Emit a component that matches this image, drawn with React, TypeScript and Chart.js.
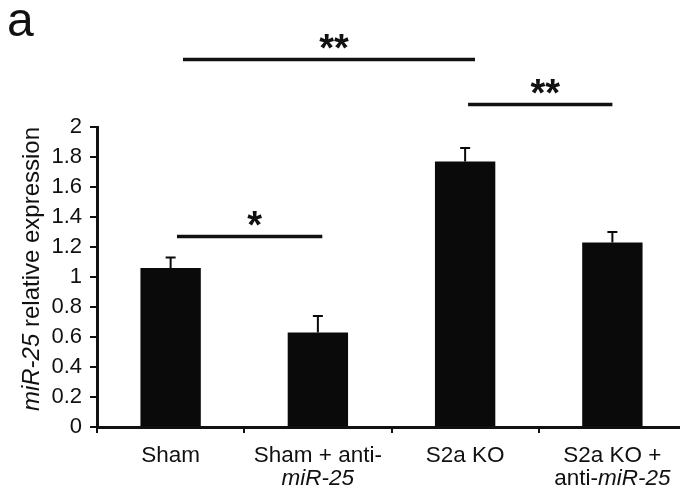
import React, { useEffect, useRef } from "react";
import { Chart, registerables } from "chart.js";

Chart.register(...registerables);

// ---------- data ----------
const categories = ["Sham", "Sham + anti-miR-25", "S2a KO", "S2a KO + anti-miR-25"];
const values = [1.06, 0.63, 1.77, 1.23];
const errors = [0.07, 0.11, 0.09, 0.07];
const yMin = 0;
const yMax = 2;
const yStep = 0.2;

type Seg = [string, boolean]; // [text, italic]
const xLabelLines: Seg[][][] = [
  [[["Sham", false]]],
  [[["Sham + anti-", false]], [["miR-25", true]]],
  [[["S2a KO", false]]],
  [[["S2a KO +", false]], [["anti-", false], ["miR-25", true]]],
];
const yTitle: Seg[] = [["miR-25", true], [" relative expression", false]];
const panelLabel = "a";

// significance brackets: from/to in category index units, y in data units
const sigFrom = [0.084, 2.02, 0.043];
const sigTo = [2.067, 3.0, 1.03];
const sigY = [2.45, 2.15, 1.27];
const sigLabel = ["**", "**", "*"];

const FAMILY = "'Liberation Sans', Arial, Helvetica, sans-serif";

function drawSegs(ctx: CanvasRenderingContext2D, segs: Seg[], cx: number, y: number, size: number) {
  const fonts = segs.map(([, it]) => `${it ? "italic " : ""}${size}px ${FAMILY}`);
  const widths = segs.map(([t], i) => {
    ctx.font = fonts[i];
    return ctx.measureText(t).width;
  });
  const total = widths.reduce((a, b) => a + b, 0);
  let x = cx - total / 2;
  ctx.textAlign = "left";
  segs.forEach(([t], i) => {
    ctx.font = fonts[i];
    ctx.fillText(t, x, y);
    x += widths[i];
  });
}

const decorPlugin = {
  id: "decor",
  afterDatasetsDraw(chart: any) {
    const ctx: CanvasRenderingContext2D = chart.ctx;
    const ys = chart.scales.y;
    const meta = chart.getDatasetMeta(0);
    ctx.save();
    ctx.strokeStyle = "#0a0a0a";
    ctx.lineWidth = 2;
    meta.data.forEach((bar: any, i: number) => {
      const x = bar.x;
      const top = ys.getPixelForValue(values[i] + errors[i]);
      const base = ys.getPixelForValue(values[i]);
      ctx.beginPath();
      ctx.moveTo(x, base);
      ctx.lineTo(x, top);
      ctx.moveTo(x - 5, top);
      ctx.lineTo(x + 5, top);
      ctx.stroke();
    });
    ctx.restore();
  },
  afterDraw(chart: any) {
    const ctx: CanvasRenderingContext2D = chart.ctx;
    const xs = chart.scales.x;
    const ys = chart.scales.y;
    const xAt = (v: number) => {
      const i0 = Math.min(Math.floor(v), categories.length - 2);
      const p0 = xs.getPixelForValue(i0);
      const p1 = xs.getPixelForValue(i0 + 1);
      return p0 + (v - i0) * (p1 - p0);
    };
    ctx.save();
    ctx.fillStyle = "#111";
    ctx.strokeStyle = "#111";
    ctx.textBaseline = "alphabetic";

    // panel label
    ctx.font = `48px ${FAMILY}`;
    ctx.textAlign = "left";
    ctx.fillText(panelLabel, 7, 36);

    // significance brackets
    ctx.lineWidth = 3.5;
    sigY.forEach((yv, k) => {
      const x1 = xAt(sigFrom[k]);
      const x2 = xAt(sigTo[k]);
      const py = ys.getPixelForValue(yv);
      ctx.beginPath();
      ctx.moveTo(x1, py);
      ctx.lineTo(x2, py);
      ctx.stroke();
      ctx.font = `bold 38px ${FAMILY}`;
      ctx.textAlign = "center";
      ctx.fillText(sigLabel[k], (x1 + x2) / 2 + 5, py + 1);
    });

    // x labels
    const bottom = chart.chartArea.bottom;
    xLabelLines.forEach((lines, i) => {
      const cx = xs.getPixelForValue(i);
      lines.forEach((segs, j) => {
        drawSegs(ctx, segs, cx, bottom + 35 + j * 23, 22.5);
      });
    });

    // y title
    ctx.save();
    ctx.translate(39, (chart.chartArea.top + chart.chartArea.bottom) / 2 - 8);
    ctx.rotate(-Math.PI / 2);
    drawSegs(ctx, yTitle, 0, 0, 24);
    ctx.restore();

    ctx.restore();
  },
};

export default function App() {
  const ref = useRef<HTMLCanvasElement | null>(null);
  useEffect(() => {
    if (!ref.current) return;
    const chart = new Chart(ref.current, {
      type: "bar",
      data: {
        labels: categories,
        datasets: [
          {
            data: values,
            backgroundColor: "#0a0a0a",
            borderWidth: 0,
            barPercentage: 0.41,
            categoryPercentage: 1,
          },
        ],
      },
      options: {
        responsive: false,
        animation: false,
        events: [],
        layout: { padding: { top: 127, right: 0, left: 0, bottom: 0 } },
        plugins: { legend: { display: false }, tooltip: { enabled: false }, title: { display: false } },
        scales: {
          x: {
            offset: true,
            afterFit: (s: any) => {
              s.height = 64;
            },
            ticks: { display: false },
            grid: {
              display: true,
              offset: true,
              drawOnChartArea: false,
              drawTicks: true,
              tickLength: 6,
              color: "#111",
              lineWidth: 2,
            },
            border: { display: true, color: "#111", width: 3 },
          },
          y: {
            min: yMin,
            max: yMax,
            afterFit: (s: any) => {
              s.width = 97;
            },
            ticks: {
              stepSize: yStep,
              padding: 8,
              color: "#111",
              font: { family: FAMILY, size: 22 },
              callback: (v: any) => String(Number(Number(v).toFixed(1))),
            },
            grid: {
              display: true,
              drawOnChartArea: false,
              drawTicks: true,
              tickLength: 7,
              color: "#111",
              lineWidth: 2,
            },
            border: { display: true, color: "#111", width: 3 },
          },
        },
      },
      plugins: [decorPlugin],
    });
    return () => chart.destroy();
  }, []);
  return (
    <div style={{ position: "absolute", left: 0, top: 0, width: 680, height: 491, overflow: "hidden", background: "#fff" }}>
      <canvas ref={ref} width={686} height={491} />
    </div>
  );
}
